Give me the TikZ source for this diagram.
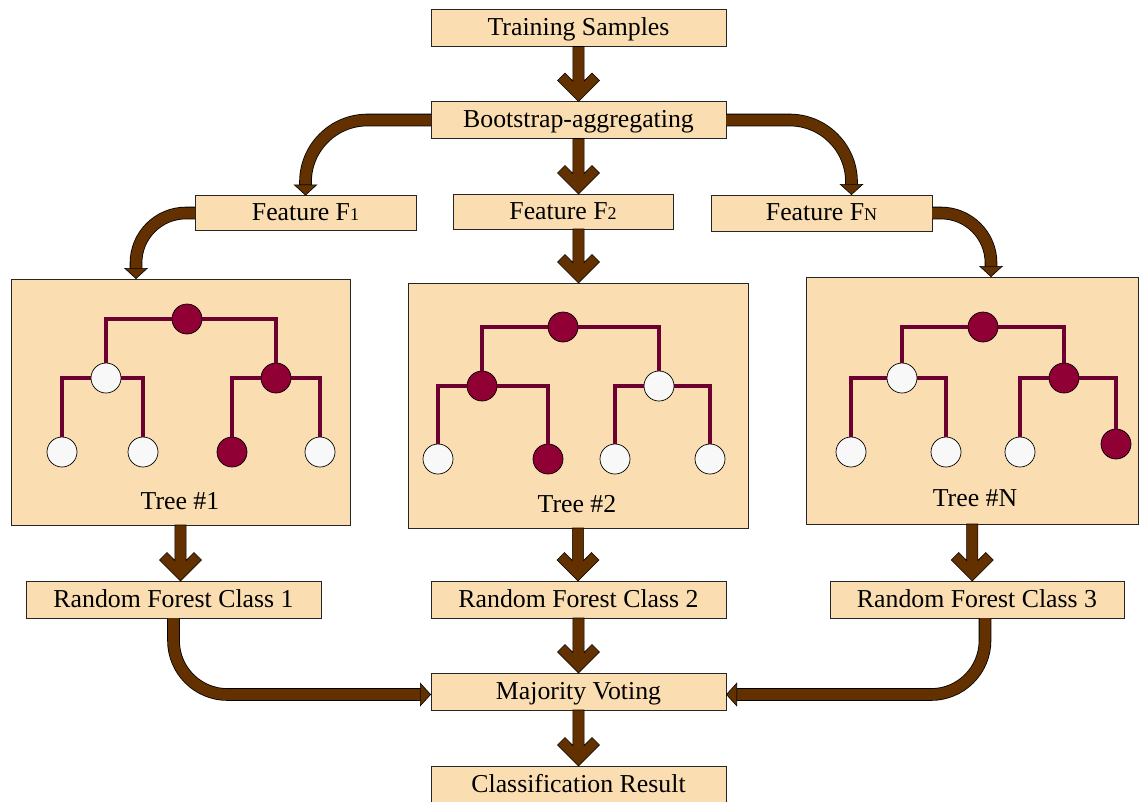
\documentclass[tikz,border=0pt]{standalone}
\usepackage{fontspec}
\setmainfont{Liberation Serif}
\usetikzlibrary{calc,arrows.meta}
\definecolor{boxfill}{RGB}{250,222,177}
\definecolor{arrbrown}{RGB}{99,49,0}
\definecolor{nodered}{RGB}{144,0,52}
\definecolor{treeline}{RGB}{108,0,48}
\definecolor{nodewhite}{RGB}{248,248,248}
\newcommand{\lblfont}{\fontsize{25.8}{30}\selectfont}
\newcommand{\smallsub}[1]{{\fontsize{18}{20}\selectfont #1}}
\begin{document}
\begin{tikzpicture}[x=1pt,y=-1pt,
  box/.style={draw=black!85, line width=0.8pt, fill=boxfill, inner sep=0pt, outer sep=0pt,
    font=\lblfont, text height=18pt, text depth=3pt},
  wbox/.style={box, minimum width=295pt, minimum height=37pt},
  fbox/.style={box, minimum width=221pt, minimum height=35pt},
  lbl/.style={inner sep=0pt, font=\lblfont, text height=18pt, text depth=3pt},
  tnode/.style={circle, draw=black, line width=0.7pt, minimum size=30pt, inner sep=0pt, outer sep=0pt},
  dnode/.style={tnode, fill=nodered},
  wnode/.style={tnode, fill=nodewhite},
  tline/.style={draw=treeline, line width=4pt},
  chev/.style={draw=black, line width=0.6pt, fill=arrbrown, line join=miter,
    to path={($(\tikztostart)+(5.6,0)$) -- ($(\tikztotarget)+(5.6,-20.5)$)
      -- ($(\tikztotarget)+(13.5,-28.5)$) -- ($(\tikztotarget)+(21,-21)$)
      -- (\tikztotarget) -- ($(\tikztotarget)+(-21,-21)$)
      -- ($(\tikztotarget)+(-13.5,-28.5)$) -- ($(\tikztotarget)+(-5.6,-20.5)$)
      -- ($(\tikztostart)+(-5.6,0)$) -- cycle}},
  bandback/.style={draw=black, line width=12.6pt, shorten >=10.5pt},
  bandfront/.style={draw=arrbrown, line width=11pt,
    -{Triangle[width=24pt,length=11pt,line width=0.6pt,fill=arrbrown,color=black]}}
]
\useasboundingbox (0,0) rectangle (1139,801);

% main boxes
\node[wbox] (ts) at (578.5,28) {Training Samples};
\node[wbox] (ba) at (578.5,120) {Bootstrap-aggregating};
\node[fbox] (f1) at (305.5,213) {Feature F\smallsub{1}};
\node[fbox, minimum width=220pt] (f2) at (563,211.5) {Feature F\smallsub{2}};
\node[fbox, minimum height=36pt] (fn) at (821.5,213) {Feature F\smallsub{N}};
\node[box, minimum width=339pt, minimum height=246pt] (t1) at (180.5,402) {};
\node[box, minimum width=340pt, minimum height=245pt] (t2) at (578,405.5) {};
\node[box, minimum width=332.5pt, minimum height=247pt] (tn) at (972.25,400.5) {};
\node[wbox] (rf1) at (173.5,599.5) {Random Forest Class 1};
\node[wbox] (rf2) at (578.5,599.5) {Random Forest Class 2};
\node[wbox, minimum width=294pt] (rf3) at (977,599.5) {Random Forest Class 3};
\node[wbox] (mv) at (578.5,691.5) {Majority Voting};
\node[wbox] (cr) at (578.5,784.5) {Classification Result};

% tree labels
\node[lbl] (t1l) at (180,502) {Tree \#1};
\node[lbl] (t2l) at (577,505) {Tree \#2};
\node[lbl] (tnl) at (975,499) {Tree \#N};

% tree 1
\node[dnode] (r1) at (187,319) {};
\node[wnode] (a1) at (106,378) {};
\node[dnode] (b1) at (276,378) {};
\node[wnode] (c1) at (62,452) {};
\node[wnode] (d1) at (143,452) {};
\node[dnode] (e1) at (232,452) {};
\node[wnode] (g1) at (320,452) {};
\draw[tline] (a1) |- (r1) -| (b1);
\draw[tline] (c1) |- (a1) -| (d1);
\draw[tline] (e1) |- (b1) -| (g1);

% tree 2
\node[dnode] (r2) at (563,327) {};
\node[dnode] (a2) at (482,386) {};
\node[wnode] (b2) at (659,386) {};
\node[wnode] (c2) at (438,459) {};
\node[dnode] (d2) at (548,459) {};
\node[wnode] (e2) at (615,459) {};
\node[wnode] (g2) at (710,459) {};
\draw[tline] (a2) |- (r2) -| (b2);
\draw[tline] (c2) |- (a2) -| (d2);
\draw[tline] (e2) |- (b2) -| (g2);

% tree N
\node[dnode] (r3) at (983,327) {};
\node[wnode] (a3) at (902,378) {};
\node[dnode] (b3) at (1064,378) {};
\node[wnode] (c3) at (851,452) {};
\node[wnode] (d3) at (946,452) {};
\node[wnode] (e3) at (1020,452) {};
\node[dnode] (g3) at (1116,444) {};
\draw[tline] (a3) |- (r3) -| (b3);
\draw[tline] (c3) |- (a3) -| (d3);
\draw[tline] (e3) |- (b3) -| (g3);

% straight chevron arrows
\path[chev] (ts.south) to (ba.north);
\path[chev] (ba.south) to (ba.south |- f2.north);
\path[chev] (ba.south |- f2.south) to (ba.south |- t2.north);
\path[chev] (t1.south) to (t1.south |- rf1.north);
\path[chev] (t2.south) to (t2.south |- rf2.north);
\path[chev] (tn.south) to (tn.south |- rf3.north);
\path[chev] (rf2.south) to (mv.north);
\path[chev] (mv.south) to (cr.north);

% free ends of curved arrows
\coordinate (fnin) at ($(fn.north)+(30,0)$);
\coordinate (t1in) at ($(t1.north west)+(125,0)$);
\coordinate (tnin) at ($(tn.north west)+(185,0)$);
\coordinate (rf3out) at ($(rf3.south)+(8,0)$);
\coordinate (mvL) at ($(mv.west)+(0,3)$);
\coordinate (mvR) at ($(mv.east)+(0,3)$);

% curved arrows
\draw[bandback, rounded corners=62pt] (ba.west) -| (f1.north);
\draw[bandfront, rounded corners=62pt] (ba.west) -| (f1.north);
\draw[bandback, rounded corners=62pt] (ba.east) -| (fnin);
\draw[bandfront, rounded corners=62pt] (ba.east) -| (fnin);
\draw[bandback, rounded corners=50pt] (f1.west) -| (t1in);
\draw[bandfront, rounded corners=50pt] (f1.west) -| (t1in);
\draw[bandback, rounded corners=50pt] (fn.east) -| (tnin);
\draw[bandfront, rounded corners=50pt] (fn.east) -| (tnin);
\draw[bandback, rounded corners=54pt] (rf1.south) |- (mvL);
\draw[bandfront, rounded corners=54pt] (rf1.south) |- (mvL);
\draw[bandback, rounded corners=54pt] (rf3out) |- (mvR);
\draw[bandfront, rounded corners=54pt] (rf3out) |- (mvR);
\end{tikzpicture}
\end{document}
